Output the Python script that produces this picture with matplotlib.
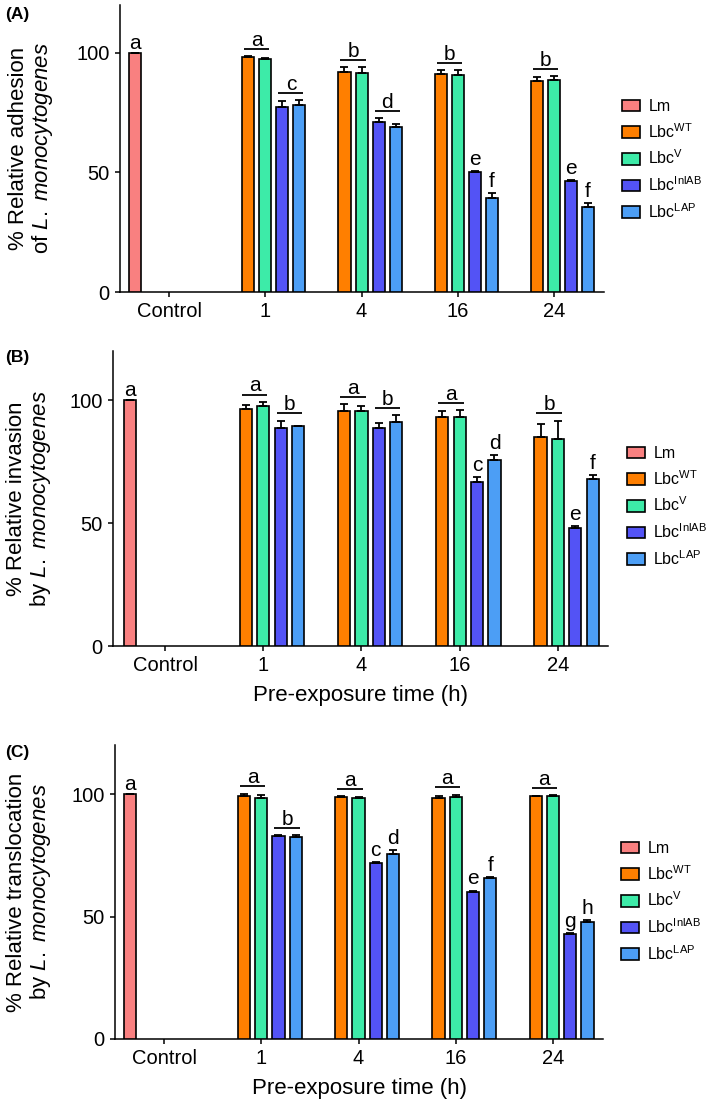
import numpy as np
import matplotlib
matplotlib.use('Agg')
import matplotlib.pyplot as plt
from matplotlib.patches import Patch

plt.rcParams['font.family'] = ['Liberation Sans', 'DejaVu Sans']
plt.rcParams['mathtext.fontset'] = 'custom'
plt.rcParams['mathtext.rm'] = 'Liberation Sans'
plt.rcParams['mathtext.it'] = 'Liberation Sans:italic'
plt.rcParams['mathtext.bf'] = 'Liberation Sans:bold'

# ---------------- data ----------------
groups = ['Control', '1', '4', '16', '24']
legend_labels = ['Lm', r'Lbc$^{\mathrm{WT}}$', r'Lbc$^{\mathrm{V}}$',
                 r'Lbc$^{\mathrm{InlAB}}$', r'Lbc$^{\mathrm{LAP}}$']
colors = ['#F98080', '#FF7F00', '#3DEBA8', '#5353F5', '#4C9EF5']

# Panel A: adhesion (Lm control, then 4 strains at 1, 4, 16, 24 h)
adh_lm, adh_lm_err = 100.0, 0.0
adh_wt = [98.2, 91.9, 91.2, 88.2];      adh_wt_err = [0.3, 2.0, 1.7, 1.6]
adh_v = [97.4, 91.6, 90.8, 88.6];       adh_v_err = [0.5, 2.5, 2.0, 1.7]
adh_inl = [77.2, 71.0, 50.0, 46.4];     adh_inl_err = [2.7, 1.8, 0.8, 0.3]
adh_lap = [78.0, 69.1, 39.4, 35.7];     adh_lap_err = [2.1, 1.1, 2.0, 1.6]
adh_let_wtv = ['a', 'b', 'b', 'b']
adh_let_inl = ['c', 'd', 'e', 'e']
adh_let_lap = ['c', 'd', 'f', 'f']

# Panel B: invasion
inv_lm, inv_lm_err = 100.0, 0.0
inv_wt = [96.3, 95.7, 93.2, 85.0];      inv_wt_err = [1.8, 2.7, 2.2, 5.4]
inv_v = [97.6, 95.4, 93.2, 84.3];       inv_v_err = [1.7, 2.2, 2.6, 7.4]
inv_inl = [88.5, 88.5, 66.7, 48.0];     inv_inl_err = [3.1, 2.4, 2.0, 0.8]
inv_lap = [89.3, 91.2, 75.5, 67.9];     inv_lap_err = [0.3, 2.7, 2.0, 1.8]
inv_let_wtv = ['a', 'a', 'a', 'b']
inv_let_inl = ['b', 'b', 'c', 'e']
inv_let_lap = ['b', 'b', 'd', 'f']

# Panel C: translocation
tra_lm, tra_lm_err = 100.0, 0.0
tra_wt = [99.3, 98.8, 98.4, 99.0];      tra_wt_err = [0.8, 0.3, 0.8, 0.3]
tra_v = [98.2, 98.5, 98.8, 99.0];       tra_v_err = [1.4, 0.2, 0.9, 0.4]
tra_inl = [82.8, 71.9, 60.2, 42.8];     tra_inl_err = [0.4, 0.4, 0.4, 0.6]
tra_lap = [82.4, 75.4, 65.8, 47.6];     tra_lap_err = [0.8, 1.8, 0.2, 1.1]
tra_let_wtv = ['a', 'a', 'a', 'a']
tra_let_inl = ['b', 'c', 'e', 'g']
tra_let_lap = ['b', 'd', 'f', 'h']

ylabels = ['% Relative adhesion\nof $\\mathit{L.\\ monocytogenes}$',
           '% Relative invasion\nby $\\mathit{L.\\ monocytogenes}$',
           '% Relative translocation\nby $\\mathit{L.\\ monocytogenes}$']
xlabel = 'Pre-exposure time (h)'

# ---------------- layout ----------------
W, H = 709, 1108
fig = plt.figure(figsize=(W / 100, H / 100), dpi=100)

def fig_rect(l, r, t, b):
    return [l / W, 1 - b / H, (r - l) / W, (b - t) / H]

ax_rects = [fig_rect(120, 604, 5, 292), fig_rect(113, 608, 351, 646), fig_rect(115, 603, 745, 1039)]
xlims = [(-0.51, 4.52), (-0.53, 4.51), (-0.504, 4.514)]
ylab_x = [-0.134, -0.121, -0.127]
leg_anchor = [(622, 99), (627, 446), (621, 841)]
panel_tags = [('(A)', 14), ('(B)', 358), ('(C)', 753)]

slot = 0.177
bw = 0.125
tfs = 14.5
lfs = 15


def draw_panel(i, lm, lm_err, vals, errs, let_wtv, let_inl, let_lap, show_xlabel):
    ax = fig.add_axes(ax_rects[i])
    tpos = np.arange(1, len(groups))
    # control bar
    xl = np.array([0 - 2 * slot])
    ax.bar(xl, [lm], width=bw, color=colors[0], edgecolor='black', linewidth=1.2, zorder=3)
    ax.errorbar(xl, [lm], yerr=[[0], [lm_err]], fmt='none', ecolor='black',
                elinewidth=1.3, capsize=3, capthick=1.3, zorder=4)
    ax.text(xl[0], lm + lm_err + 1.8, 'a', ha='center', va='baseline', fontsize=lfs)
    xs = []
    for k in range(4):
        x = tpos + (k - 1) * slot
        xs.append(x)
        v = np.array(vals[k]); e = np.array(errs[k])
        ax.bar(x, v, width=bw, color=colors[k + 1], edgecolor='black', linewidth=1.2, zorder=3)
        ax.errorbar(x, v, yerr=[np.zeros_like(e), e], fmt='none', ecolor='black',
                    elinewidth=1.3, capsize=3, capthick=1.3, zorder=4)
    tops = [np.array(vals[k]) + np.array(errs[k]) for k in range(4)]
    for j in range(len(tpos)):
        # WT / V pair
        yl = max(tops[0][j], tops[1][j]) + 3.0
        xc = (xs[0][j] + xs[1][j]) / 2
        ax.plot([xc - 0.13, xc + 0.13], [yl, yl], color='black', lw=1.3, solid_capstyle='butt')
        ax.text(xc, yl + 1.3, let_wtv[j], ha='center', va='baseline', fontsize=lfs)
        if let_inl[j] == let_lap[j]:
            yl = max(tops[2][j], tops[3][j]) + 3.0
            xc = (xs[2][j] + xs[3][j]) / 2
            ax.plot([xc - 0.13, xc + 0.13], [yl, yl], color='black', lw=1.3, solid_capstyle='butt')
            ax.text(xc, yl + 1.3, let_inl[j], ha='center', va='baseline', fontsize=lfs)
        else:
            ax.text(xs[2][j], tops[2][j] + 2.5, let_inl[j], ha='center', va='baseline', fontsize=lfs)
            ax.text(xs[3][j], tops[3][j] + 2.5, let_lap[j], ha='center', va='baseline', fontsize=lfs)

    ax.set_xlim(*xlims[i])
    ax.set_ylim(0, 120)
    ax.set_xticks(np.arange(len(groups)))
    ax.set_xticklabels(groups)
    ax.set_yticks([0, 50, 100])
    for s in ['top', 'right']:
        ax.spines[s].set_visible(False)
    for s in ['left', 'bottom']:
        ax.spines[s].set_linewidth(1.1)
    ax.tick_params(axis='both', direction='out', length=3.5, width=1.1, labelsize=tfs, pad=4)
    ax.set_ylabel(ylabels[i], fontsize=16, linespacing=1.05)
    ax.yaxis.set_label_coords(ylab_x[i], 0.5)
    if show_xlabel:
        ax.set_xlabel(xlabel, fontsize=16, labelpad=7)
    handles = [Patch(facecolor=c, edgecolor='black', linewidth=1.2) for c in colors]
    lx, ly = leg_anchor[i]
    ax.legend(handles, legend_labels, loc='upper left', bbox_to_anchor=(lx / W, 1 - ly / H),
              bbox_transform=fig.transFigure, frameon=False, fontsize=11.5,
              handlelength=1.15, handleheight=0.75, handletextpad=0.5,
              labelspacing=0.5, borderpad=0, borderaxespad=0)
    tag, ty = panel_tags[i]
    fig.text(5 / W, 1 - ty / H, tag, fontsize=12.5, fontweight='bold', va='center', ha='left')
    return ax


draw_panel(0, adh_lm, adh_lm_err, [adh_wt, adh_v, adh_inl, adh_lap],
           [adh_wt_err, adh_v_err, adh_inl_err, adh_lap_err],
           adh_let_wtv, adh_let_inl, adh_let_lap, False)
draw_panel(1, inv_lm, inv_lm_err, [inv_wt, inv_v, inv_inl, inv_lap],
           [inv_wt_err, inv_v_err, inv_inl_err, inv_lap_err],
           inv_let_wtv, inv_let_inl, inv_let_lap, True)
draw_panel(2, tra_lm, tra_lm_err, [tra_wt, tra_v, tra_inl, tra_lap],
           [tra_wt_err, tra_v_err, tra_inl_err, tra_lap_err],
           tra_let_wtv, tra_let_inl, tra_let_lap, True)

fig.savefig('out.png', dpi=100, facecolor='white')
